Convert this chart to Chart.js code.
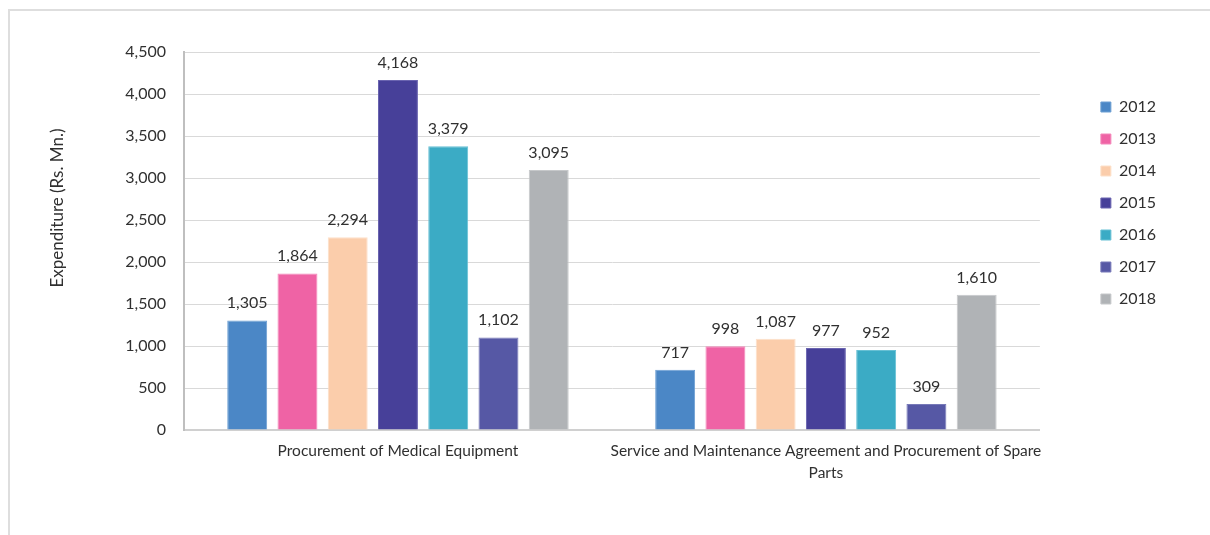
<!DOCTYPE html>
<html>
<head>
<meta charset="utf-8">
<script src="https://cdn.jsdelivr.net/npm/chart.js@4"></script>
<style>
  html, body { margin: 0; padding: 0; background: #ffffff; overflow: hidden; }
  #wrap { position: relative; width: 1210px; height: 535px; }
  #frame { position: absolute; left: 8px; top: 9px; width: 1220px; height: 540px;
           border-left: 2px solid #dedede; border-top: 2px solid #dedede; pointer-events: none; }
  canvas { position: absolute; left: 0; top: 0; }
</style>
</head>
<body>
<div id="wrap">
  <canvas id="chart" width="1210" height="535"></canvas>
  <div id="frame"></div>
</div>
<script>
// Expenditure categories (x axis)
const categories = [
  'Procurement of Medical Equipment',
  ['Service and Maintenance Agreement and Procurement of Spare', 'Parts']
];

// Years shown as series
const years = ['2012', '2013', '2014', '2015', '2016', '2017', '2018'];

// Values per category, one entry per year (Rs. Mn.)
const medicalEquipment = [1305, 1864, 2294, 4168, 3379, 1102, 3095];
const serviceAndSpares = [717, 998, 1087, 977, 952, 309, 1610];

// Value axis
const yMax = 4500;
const yStep = 500;
const yTitle = 'Expenditure (Rs. Mn.)';

const seriesColors = ['#4b87c6', '#ef63a5', '#fbcdab', '#474099', '#3babc5', '#5658a5', '#b0b3b6'];
const seriesEdges  = ['#6d9fd3', '#f488ba', '#fde0c9', '#6a64b0', '#67c0d4', '#7779b8', '#c6c8ca'];

const TEXT = '#303030';
const FONT = 'Lato';

const fmt = v => Number(v).toLocaleString('en-US');

// Value labels above each bar
const barValueLabels = {
  id: 'barValueLabels',
  afterDatasetsDraw(chart) {
    const ctx = chart.ctx;
    ctx.save();
    ctx.font = '16px ' + FONT;
    ctx.fillStyle = TEXT;
    ctx.textAlign = 'center';
    ctx.textBaseline = 'alphabetic';
    chart.data.datasets.forEach((ds, i) => {
      const meta = chart.getDatasetMeta(i);
      meta.data.forEach((bar, j) => {
        ctx.fillText(fmt(ds.data[j]), bar.x, bar.y - 12);
      });
    });
    ctx.restore();
  }
};

// Rotated value-axis title
const valueAxisTitle = {
  id: 'valueAxisTitle',
  afterDraw(chart) {
    const a = chart.chartArea;
    const ctx = chart.ctx;
    ctx.save();
    ctx.translate(a.left - 126, (a.top + a.bottom) / 2 - 33);
    ctx.rotate(-Math.PI / 2);
    ctx.font = '17px ' + FONT;
    ctx.fillStyle = TEXT;
    ctx.textAlign = 'center';
    ctx.textBaseline = 'middle';
    ctx.fillText(yTitle, 0, 0);
    ctx.restore();
  }
};

const datasets = years.map((year, i) => ({
  label: year,
  data: [medicalEquipment[i], serviceAndSpares[i]],
  backgroundColor: seriesColors[i],
  borderColor: seriesEdges[i],
  borderWidth: 1,
  categoryPercentage: 0.822,
  barPercentage: 0.795,
  xAxisID: 'x',
  yAxisID: 'y'
}));

new Chart(document.getElementById('chart'), {
  type: 'bar',
  data: { labels: categories, datasets },
  options: {
    responsive: false,
    animation: false,
    devicePixelRatio: 1,
    layout: { padding: { top: 52, right: 44, bottom: 0, left: 0 } },
    plugins: {
      tooltip: { enabled: false },
      legend: {
        position: 'right',
        align: 'start',
        title: { display: true, text: '', font: { size: 12 }, padding: { top: 16.6, bottom: 0 } },
        labels: {
          boxWidth: 10,
          boxHeight: 10,
          padding: 16,
          color: TEXT,
          font: { family: FONT, size: 16 }
        }
      }
    },
    scales: {
      x: {
        type: 'category',
        position: 'bottom',
        grid: { display: false, drawTicks: false },
        border: { display: true, color: '#d0d0d0', width: 2 },
        ticks: {
          color: TEXT,
          font: { family: FONT, size: 15.5, lineHeight: 1.4 },
          padding: 10,
          maxRotation: 0,
          autoSkip: false
        },
        afterFit(scale) { scale.height = 105; }
      },
      y: {
        type: 'linear',
        position: 'left',
        min: 0,
        max: yMax,
        grid: { color: '#d9d9d9', lineWidth: 1, drawTicks: false },
        border: { display: true, color: '#bfbfbf', width: 2 },
        ticks: {
          stepSize: yStep,
          color: TEXT,
          font: { family: FONT, size: 16 },
          padding: 18,
          callback: v => fmt(v)
        },
        afterFit(scale) { scale.width = 184; }
      },
      legendGap: {
        type: 'linear',
        position: 'right',
        display: true,
        grid: { display: false, drawTicks: false },
        border: { display: false },
        ticks: { display: false },
        afterFit(scale) { scale.width = 45; }
      }
    }
  },
  plugins: [barValueLabels, valueAxisTitle]
});
</script>
</body>
</html>
